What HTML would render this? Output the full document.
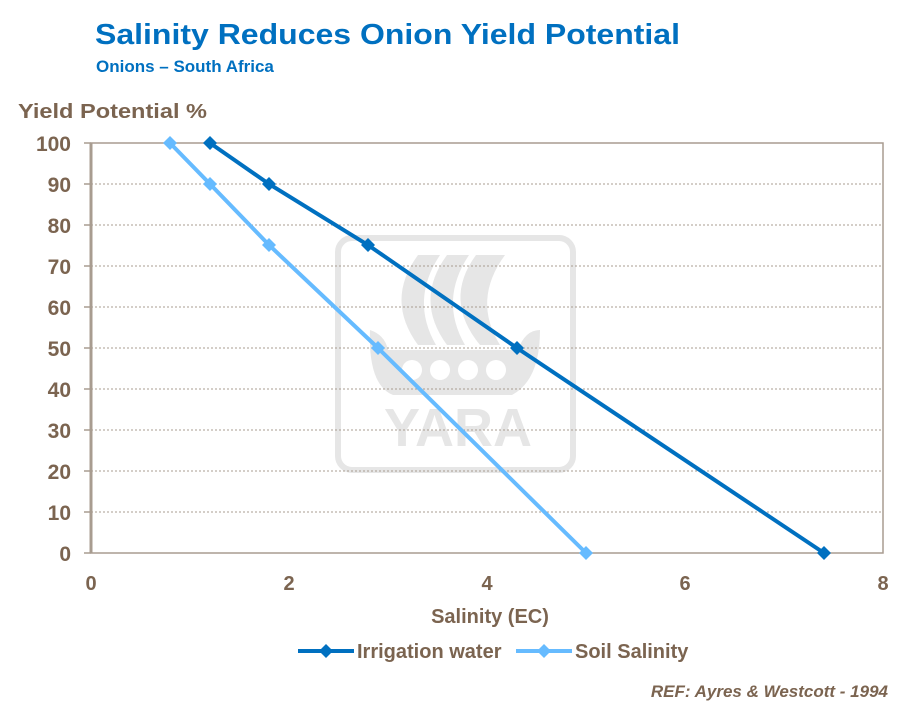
<!DOCTYPE html>
<html><head><style>
body{margin:0;background:#fff;}
svg text{font-family:"Liberation Sans",Arial,sans-serif;font-weight:bold;}
</style></head><body>
<svg width="908" height="711" viewBox="0 0 908 711" xmlns="http://www.w3.org/2000/svg">
<rect width="908" height="711" fill="#fff"/>
<text x="95" y="44" font-size="29" fill="#0070c0" textLength="585" lengthAdjust="spacingAndGlyphs">Salinity Reduces Onion Yield Potential</text>
<text x="96" y="72" font-size="17" fill="#0070c0">Onions – South Africa</text>
<text x="18" y="118" font-size="20" fill="#7b6450" textLength="189" lengthAdjust="spacingAndGlyphs">Yield Potential %</text>
<!-- watermark -->
<g fill="#e6e6e6" stroke="none">
<rect x="338" y="238" width="235" height="232" rx="14" fill="none" stroke="#e6e6e6" stroke-width="6"/>
<path d="M418 255 Q385 300 418 345 L436 345 Q410 300 440 255Z"/>
<path d="M447 255 Q414 300 447 345 L465 345 Q439 300 469 255Z"/>
<path d="M476 255 Q443 300 480 345 L500 345 Q472 300 505 255Z"/>
<path d="M370 330 Q385 335 388 350 L518 350 Q525 330 540 330 Q540 380 512 395 L393 395 Q368 385 370 330Z"/>
<text x="458" y="446" font-size="54" text-anchor="middle" fill="#e6e6e6">YARA</text>
</g>
<g fill="#fff"><circle cx="412" cy="370" r="10"/><circle cx="440" cy="370" r="10"/><circle cx="468" cy="370" r="10"/><circle cx="496" cy="370" r="10"/></g>
<!-- grid -->
<g stroke="#a89c90" stroke-width="1" stroke-dasharray="2,2">
<line x1="91" x2="883" y1="184" y2="184"/><line x1="91" x2="883" y1="225" y2="225"/>
<line x1="91" x2="883" y1="266" y2="266"/><line x1="91" x2="883" y1="307" y2="307"/>
<line x1="91" x2="883" y1="348" y2="348"/><line x1="91" x2="883" y1="389" y2="389"/>
<line x1="91" x2="883" y1="430" y2="430"/><line x1="91" x2="883" y1="471" y2="471"/>
<line x1="91" x2="883" y1="512" y2="512"/>
</g>
<rect x="91" y="143" width="792" height="410" fill="none" stroke="#a89c90" stroke-width="1.5"/>
<line x1="91" y1="143" x2="91" y2="553" stroke="#a89c90" stroke-width="3"/>
<g stroke="#a89c90" stroke-width="1.5">
<line x1="84" x2="91" y1="143" y2="143"/><line x1="84" x2="91" y1="184" y2="184"/><line x1="84" x2="91" y1="225" y2="225"/><line x1="84" x2="91" y1="266" y2="266"/><line x1="84" x2="91" y1="307" y2="307"/><line x1="84" x2="91" y1="348" y2="348"/><line x1="84" x2="91" y1="389" y2="389"/><line x1="84" x2="91" y1="430" y2="430"/><line x1="84" x2="91" y1="471" y2="471"/><line x1="84" x2="91" y1="512" y2="512"/><line x1="84" x2="91" y1="553" y2="553"/>
</g>
<g font-size="21" fill="#7b6450" text-anchor="end">
<text x="71" y="151">100</text><text x="71" y="192">90</text><text x="71" y="233">80</text><text x="71" y="274">70</text><text x="71" y="315">60</text><text x="71" y="356">50</text><text x="71" y="397">40</text><text x="71" y="438">30</text><text x="71" y="479">20</text><text x="71" y="520">10</text><text x="71" y="561">0</text>
</g>
<g font-size="20" fill="#7b6450" text-anchor="middle">
<text x="91" y="590">0</text><text x="289" y="590">2</text><text x="487" y="590">4</text><text x="685" y="590">6</text><text x="883" y="590">8</text>
</g>
<text x="490" y="623" font-size="20" fill="#7b6450" text-anchor="middle">Salinity (EC)</text>
<!-- series -->
<polyline points="170,143 210,184 269,245 378,348 586,553" fill="none" stroke="#66bbff" stroke-width="4"/>
<polyline points="210,143 269,184 368,245 517,348 824,553" fill="none" stroke="#0070c0" stroke-width="4"/>
<g fill="#66bbff">
<path d="M170 136l7 7-7 7-7-7z"/><path d="M210 177l7 7-7 7-7-7z"/><path d="M269 238l7 7-7 7-7-7z"/><path d="M378 341l7 7-7 7-7-7z"/><path d="M586 546l7 7-7 7-7-7z"/>
</g>
<g fill="#0070c0">
<path d="M210 136l7 7-7 7-7-7z"/><path d="M269 177l7 7-7 7-7-7z"/><path d="M368 238l7 7-7 7-7-7z"/><path d="M517 341l7 7-7 7-7-7z"/><path d="M824 546l7 7-7 7-7-7z"/>
</g>
<!-- legend -->
<line x1="298" x2="354" y1="651" y2="651" stroke="#0070c0" stroke-width="4"/>
<path d="M326 644l7 7-7 7-7-7z" fill="#0070c0"/>
<text x="357" y="658" font-size="20" fill="#7b6450">Irrigation water</text>
<line x1="516" x2="572" y1="651" y2="651" stroke="#66bbff" stroke-width="4"/>
<path d="M544 644l7 7-7 7-7-7z" fill="#66bbff"/>
<text x="575" y="658" font-size="20" fill="#7b6450">Soil Salinity</text>
<text x="888" y="697" font-size="17" fill="#7b6450" text-anchor="end" font-style="italic">REF: Ayres &amp; Westcott - 1994</text>
</svg>
</body></html>
